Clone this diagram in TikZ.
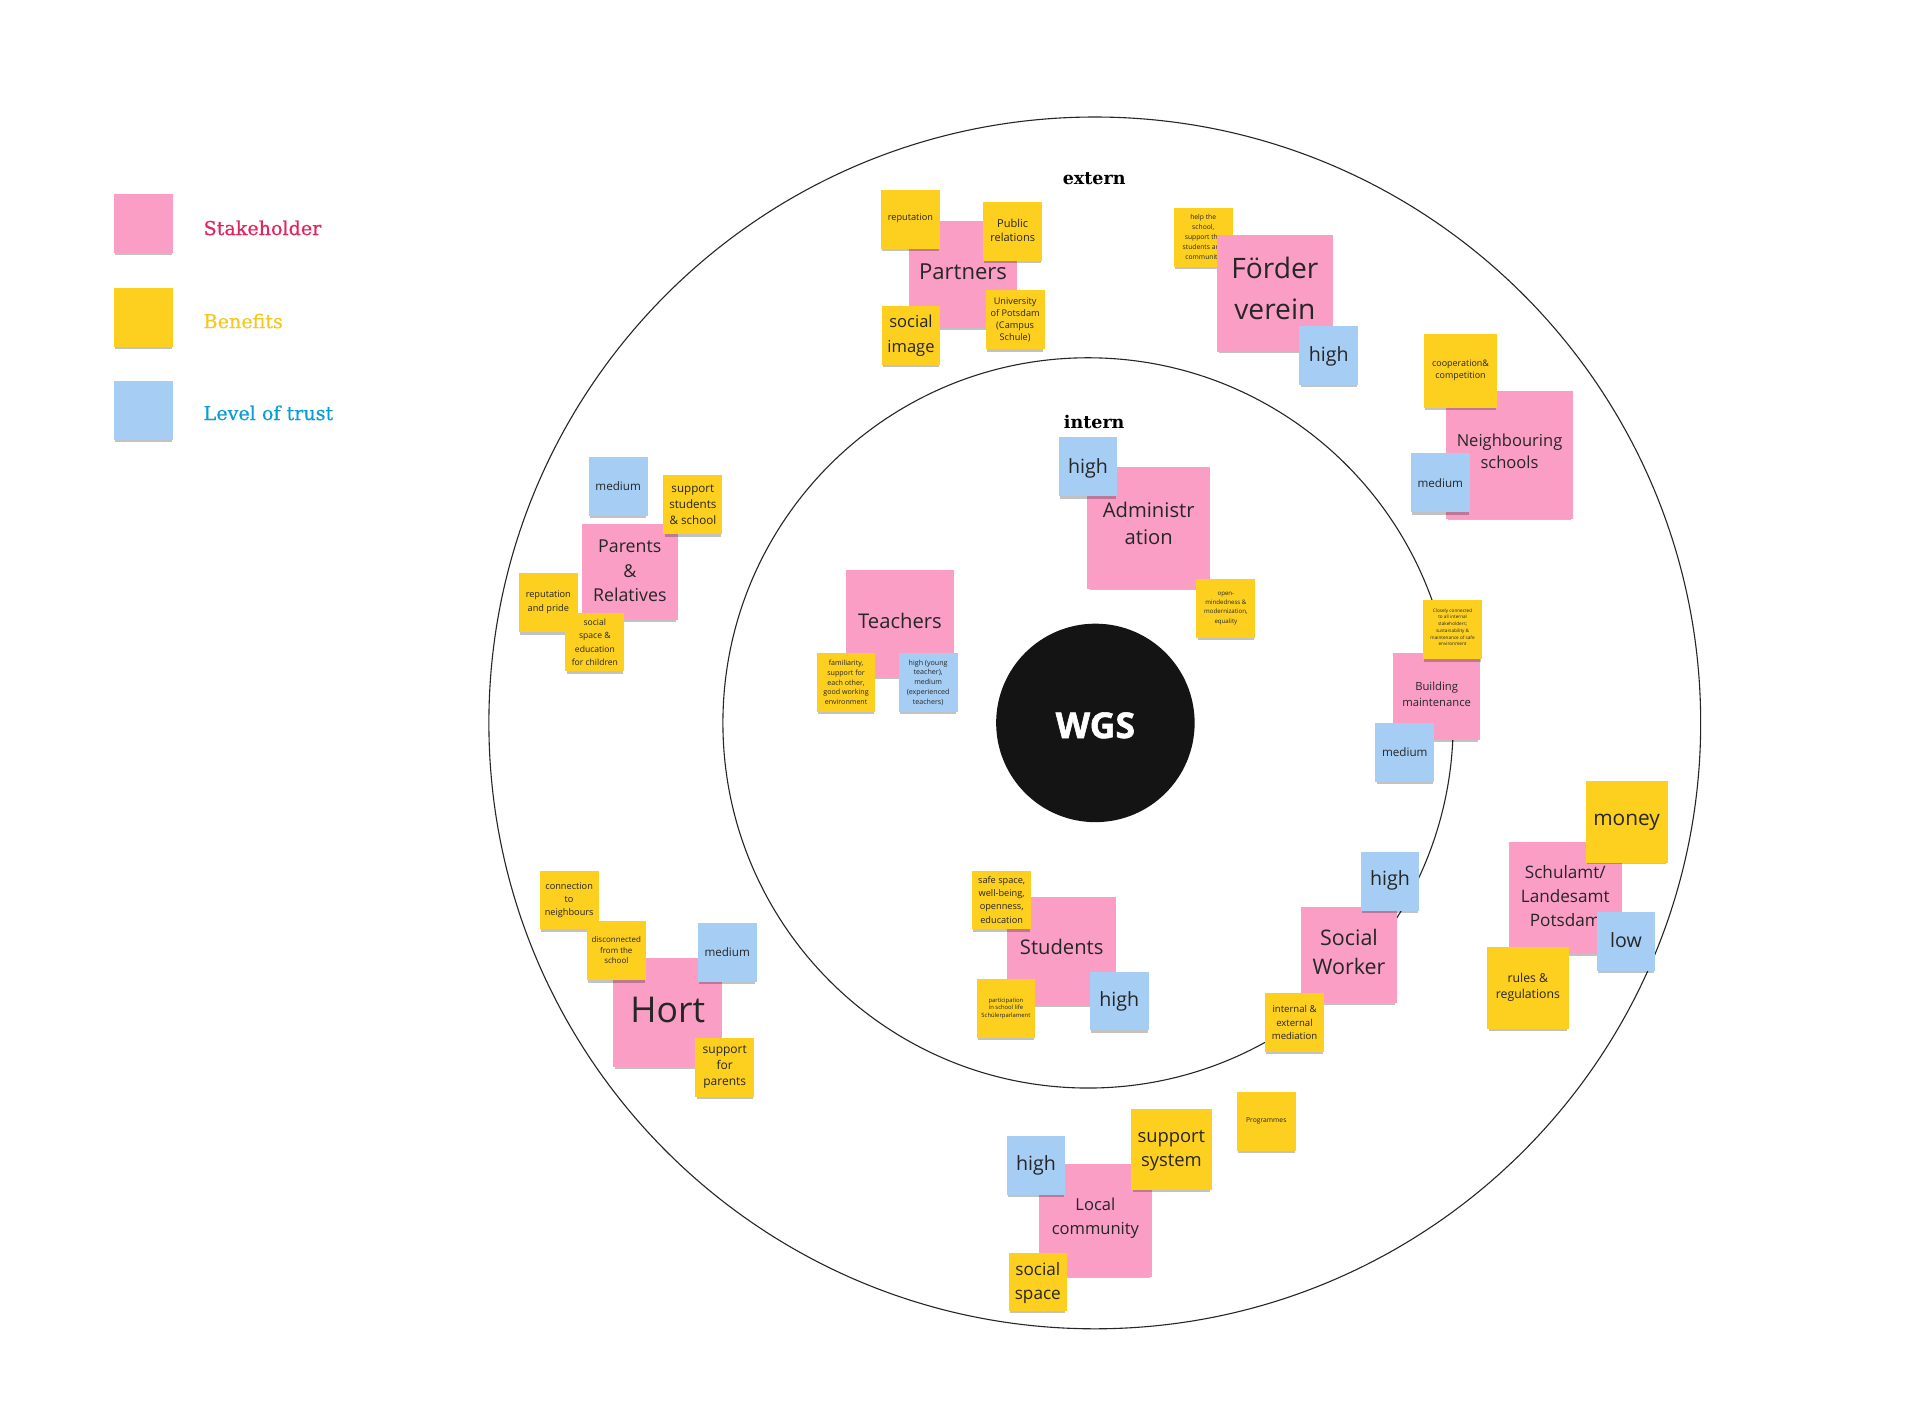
\documentclass[tikz,border=0pt]{standalone}
\usepackage{fontspec}
\setmainfont{Open Sans}
\newfontfamily\slabfont{DejaVu Serif}[FakeBold=0.6]
\newfontfamily\slabboldfont{DejaVu Serif}
\newfontfamily\wgsfont{Open Sans}[BoldFeatures={FakeBold=1.6}]
\usetikzlibrary{shadows}
\definecolor{pk}{HTML}{FA9EC6}
\definecolor{yl}{HTML}{FDCF1F}
\definecolor{bl}{HTML}{A6CDF4}
\definecolor{txt}{HTML}{262626}
\definecolor{legpk}{HTML}{E2245F}
\definecolor{legyl}{HTML}{F7C81A}
\definecolor{legbl}{HTML}{0B9DD5}
\tikzset{
  tsz/.style 2 args={font=\fontsize{#1}{#2}\selectfont},
  note/.style={rectangle, inner sep=0pt, draw=none,
    drop shadow={shadow xshift=0pt, shadow yshift=-3pt, opacity=0.24, fill=black, shadow scale=0.96}},
  notetext/.style={inner sep=0pt, align=center, text=txt},
  ring/.style={draw=black!85, line width=0.9pt},
  legtext/.style={anchor=west, inner sep=0pt, font=\slabfont\fontsize{15.6}{18}\selectfont},
  ringlabel/.style={inner sep=0pt, font=\slabboldfont\bfseries\fontsize{14.3}{16}\selectfont},
}
% #1 name, #2 colour, #3 cx, #4 cy, #5 size, #6 text options, #7 text
\newcommand\stickynote[7]{%
  \node[note, fill=#2, minimum width=#5pt, minimum height=#5pt] (#1) at (#3,#4) {};
  \node[notetext, #6] (#1-t) at (#1.center) {#7};}
\begin{document}
\begin{tikzpicture}[x=1pt, y=-1pt]
\useasboundingbox (0,0) rectangle (1567,1163.8);
\fill[white] (0,0) rectangle (1567,1163.8);

% rings
\node[ring, circle, minimum size=989pt, inner sep=0pt] (outer) at (893.5,590) {};
\node[ring, circle, minimum size=596pt, inner sep=0pt] (inner) at (888,590) {};
\node[circle, fill=black!92, minimum size=162pt, inner sep=0pt] (wgs) at (894,590) {};
\node[inner sep=0pt, text=white, yshift=-2,
      font=\wgsfont\bfseries\fontsize{29}{32}\selectfont] (wgs-t) at (wgs.center) {WGS};
\node[ringlabel] (extern) at (893,146) {extern};
\node[ringlabel] (intern) at (893,344) {intern};

% legend
\stickynote{legA}{pk}{117}{182.5}{48}{}{}
\stickynote{legB}{yl}{117}{259}{48}{}{}
\stickynote{legC}{bl}{117}{335}{48}{}{}
\node[legtext, text=legpk] (legAt) at (166,186) {Stakeholder};
\node[legtext, text=legyl] (legBt) at (166,262) {Benefits};
\node[legtext, text=legbl] (legCt) at (166,337) {Level of trust};

% Partners
\stickynote{partners}{pk}{786}{224}{88}{tsz={18}{22}, yshift=2}{Partners}
\stickynote{pa1}{yl}{743}{179}{48}{tsz={7.5}{10}, yshift=1}{reputation}
\stickynote{pa2}{yl}{826.5}{189}{48}{tsz={9}{12}, yshift=1}{Public\\relations}
\stickynote{pa3}{yl}{743.5}{274}{48}{tsz={13.5}{20}, yshift=0}{social\\image}
\stickynote{pa4}{yl}{828.5}{261}{48}{tsz={7.5}{10}}{University\\of Potsdam\\(Campus\\Schule)}

% Foerderverein
\stickynote{fv1}{yl}{982}{194}{48}{tsz={5.5}{8.3}}{help the\\school,\\support the\\students and\\community}
\stickynote{foerder}{pk}{1040.5}{239.5}{95}{tsz={23}{33}, yshift=4}{Förder\\verein}
\stickynote{fv2}{bl}{1084.5}{290}{48}{tsz={16}{20}, yshift=-1}{high}

% Neighbouring schools
\stickynote{neigh}{pk}{1232}{371.5}{104}{tsz={13.5}{18}, yshift=3.5}{Neighbouring\\schools}
\stickynote{ne1}{yl}{1192}{303}{60}{tsz={7.3}{10}, yshift=1}{cooperation\&\\competition}
\stickynote{ne2}{bl}{1175.5}{394}{48}{tsz={9.5}{12}, yshift=0}{medium}

% Administration
\stickynote{admin}{pk}{937.5}{431}{100}{tsz={16.5}{22}, yshift=4}{Administr\\ation}
\stickynote{ad1}{bl}{888}{381}{48}{tsz={16}{20}, yshift=-1}{high}
\stickynote{ad2}{yl}{1000.5}{496.5}{48}{tsz={5}{7.5}}{open-\\mindedness \&\\modernization,\\equality}

% Teachers
\stickynote{teach}{pk}{734.5}{509}{88}{tsz={16.5}{20}, yshift=2}{Teachers}
\stickynote{te1}{yl}{690.5}{557}{48}{tsz={5.8}{8}}{familiarity,\\support for\\each other,\\good working\\environment}
\stickynote{te2}{bl}{757.5}{557}{48}{tsz={5.8}{8}}{high (young\\teacher),\\medium\\(experienced\\teachers)}

% Parents & Relatives
\stickynote{parents}{pk}{514}{467}{78}{tsz={14.5}{20}, yshift=1}{Parents\\\&\\Relatives}
\stickynote{pr1}{bl}{504.5}{397}{48}{tsz={9.5}{12}, yshift=0}{medium}
\stickynote{pr2}{yl}{565.5}{412}{48}{tsz={9.5}{13}, yshift=0}{support\\students\\\& school}
\stickynote{pr3}{yl}{447.5}{492}{48}{tsz={7.5}{11}, yshift=0.5}{reputation\\and pride}
\stickynote{pr4}{yl}{485.5}{524}{48}{tsz={7}{11}}{social\\space \&\\education\\for children}

% Building maintenance
\stickynote{build}{pk}{1172.5}{568.5}{71}{tsz={9.2}{13}, yshift=2}{Building\\maintenance}
\stickynote{bm1}{yl}{1185.5}{514}{48}{tsz={3.8}{5.5}, yshift=2}{Closely connected\\to all internal\\stakeholders;\\sustainability \&\\maintenance of safe\\environment}
\stickynote{bm2}{bl}{1146.5}{614}{48}{tsz={9.5}{12}, yshift=0}{medium}

% Schulamt
\stickynote{schulamt}{pk}{1277.5}{733}{92}{tsz={14}{19.5}, yshift=2}{Schulamt/\\Landesamt\\Potsdam}
\stickynote{sa1}{yl}{1327.5}{670.5}{67}{tsz={17}{20}, yshift=-0.5}{money}
\stickynote{sa2}{bl}{1327}{768.5}{48}{tsz={16}{20}, yshift=1.5}{low}
\stickynote{sa3}{yl}{1247}{806.5}{67}{tsz={10}{13}, yshift=1}{rules \&\\regulations}

% Social Worker
\stickynote{social}{pk}{1101}{779.5}{78}{tsz={17.5}{24}, yshift=2.5}{Social\\Worker}
\stickynote{sw1}{bl}{1134.5}{719.5}{48}{tsz={16}{20}, yshift=1}{high}
\stickynote{sw2}{yl}{1056.5}{834.5}{48}{tsz={7.8}{11}}{internal \&\\external\\mediation}

% Students
\stickynote{students}{pk}{866.5}{776.5}{89}{tsz={16.5}{20}, yshift=3.5}{Students}
\stickynote{st1}{yl}{817.5}{734.5}{48}{tsz={7.5}{10.7}}{safe space,\\well-being,\\openness,\\education}
\stickynote{st2}{yl}{821}{823}{48}{tsz={4.8}{6}}{participation\\in school life\\Schülerparlament}
\stickynote{st3}{bl}{913.5}{817}{48}{tsz={16}{20}, yshift=0}{high}

% Hort
\stickynote{hort}{pk}{545}{826.5}{89}{tsz={29}{34}, yshift=2.5}{Hort}
\stickynote{ho1}{yl}{464.5}{734.5}{48}{tsz={7.5}{10.5}, yshift=0}{connection\\to\\neighbours}
\stickynote{ho2}{yl}{503}{776}{48}{tsz={6.5}{8.7}, yshift=0.5}{disconnected\\from the\\school}
\stickynote{ho3}{bl}{593.5}{777.5}{48}{tsz={9.5}{12}, yshift=0.5}{medium}
\stickynote{ho4}{yl}{591.5}{871}{48}{tsz={9.8}{13}, yshift=0}{support\\for\\parents}

% Local community
\stickynote{local}{pk}{894}{996}{92}{tsz={13.5}{19.5}, yshift=1.5}{Local\\community}
\stickynote{lc1}{bl}{845.5}{951}{48}{tsz={16}{20}, yshift=0}{high}
\stickynote{lc2}{yl}{956}{938}{66}{tsz={15}{20}, yshift=-1}{support\\system}
\stickynote{lc3}{yl}{847}{1046.5}{47}{tsz={14}{20}, yshift=-0.5}{social\\space}
\stickynote{lc4}{yl}{1033.5}{915.5}{48}{tsz={5.5}{7}, yshift=0.5}{Programmes}
\end{tikzpicture}
\end{document}
